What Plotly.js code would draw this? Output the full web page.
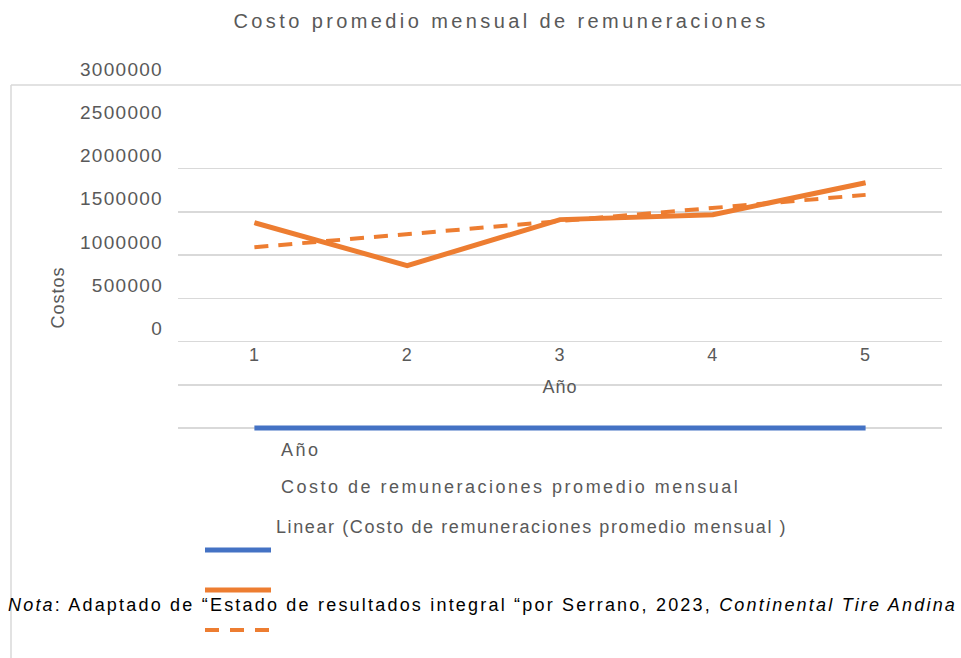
<!DOCTYPE html>
<html>
<head>
<meta charset="utf-8">
<script src="https://cdn.plot.ly/plotly-3.0.1.min.js"></script>
<style>
  html, body { margin: 0; padding: 0; background: #fff; }
  #chart { width: 961px; height: 658px; }
  .gtitle { letter-spacing: 3.4px; }
  .y2tick text { letter-spacing: 1.3px; }
  .xtick text { letter-spacing: 1px; }
  .xtitle { letter-spacing: 1px; }
  .annotation-text { letter-spacing: 2.5px; }
  g.annotation[data-index="2"] .annotation-text { letter-spacing: 1.6px; }
  g.annotation[data-index="3"] .annotation-text { letter-spacing: 1px; }
  g.annotation[data-index="4"] .annotation-text { letter-spacing: 2.2px; }
</style>
</head>
<body>
<div id="chart"></div>
<script>
// ---- data ----
const years = [1, 2, 3, 4, 5];
const yearLabels = ["1", "2", "3", "4", "5"];
const costoMensual = [1374000, 877000, 1409000, 1466000, 1836000];
const trendYears = [1, 5];
const trendCosto = [1090000, 1695000];
const anoSeries = [-1000000, -1000000, -1000000, -1000000, -1000000];
const gridVals = [-1000000, -500000, 0, 500000, 1000000, 1500000, 2000000];
const yTickVals = [0, 500000, 1000000, 1500000, 2000000, 2500000, 3000000];
const yTickText = ["0", "500000", "1000000", "1500000", "2000000", "2500000", "3000000"];
const legendNames = ["Año", "Costo de remuneraciones promedio mensual", "Linear (Costo de remuneraciones promedio mensual )"];
const titleText = "Costo promedio mensual de remuneraciones";
const yTitle = "Costos";
const xTitle = "Año";
const notaText = "<i>Nota</i>: Adaptado de “Estado de resultados integral “por Serrano, 2023, <i>Continental Tire Andina S.A.</i>";

// ---- styles ----
const FONT = "Liberation Sans, Arial, sans-serif";
const GREY = "#595959";
const ORANGE = "#ED7D31";
const BLUE = "#4472C4";
const GRID = "#d9d9d9";

// plot area in pixels: x 178..942, y 82..440 (value 3000000 at y=82, -1000000 at y=428)
const L = 178, R = 942, T = 82, B = 440;
const unitPerPx = 4000000 / 346;
const yRange = [-1000000 - 12 * unitPerPx, 3000000];
const px = v => (v - L) / (R - L);
const py = v => (B - v) / (B - T);

const traces = [
  { x: years, y: anoSeries, type: "scatter", mode: "lines", name: legendNames[0],
    line: { color: BLUE, width: 5 }, xaxis: "x", yaxis: "y", hoverinfo: "skip" },
  { x: years, y: costoMensual, type: "scatter", mode: "lines", name: legendNames[1],
    line: { color: ORANGE, width: 5 }, xaxis: "x", yaxis: "y" },
  { x: trendYears, y: trendCosto, type: "scatter", mode: "lines", name: legendNames[2],
    line: { color: ORANGE, width: 4, dash: "14px,10px" }, xaxis: "x", yaxis: "y2" }
];

const legendSwatchY = [550, 590, 630];
const legendSwatchColor = [BLUE, ORANGE, ORANGE];
const shapes = [
  { type: "line", xref: "paper", yref: "paper", x0: px(11), x1: px(11), y0: py(85), y1: py(700),
    line: { color: GRID, width: 1.5 } },
  { type: "line", xref: "paper", yref: "paper", x0: px(11), x1: px(1000), y0: py(85), y1: py(85),
    line: { color: GRID, width: 1.5 } }
];
legendSwatchY.forEach((yy, i) => {
  shapes.push({ type: "line", xref: "paper", yref: "paper", x0: px(205), x1: px(271), y0: py(yy), y1: py(yy),
    line: { color: legendSwatchColor[i], width: i === 2 ? 4 : 5, dash: i === 2 ? "14px,11px" : "solid" } });
});

const legendTextPos = [[279, 450], [279, 487], [274, 527]];
const annotations = legendNames.map((n, i) => ({
  text: n, xref: "paper", yref: "paper", x: px(legendTextPos[i][0]), y: py(legendTextPos[i][1]),
  xanchor: "left", yanchor: "middle", align: "left", showarrow: false,
  font: { family: FONT, size: 18, color: GREY }
}));
annotations.push({
  text: yTitle, xref: "paper", yref: "paper", x: px(58), y: py(298), textangle: -90,
  xanchor: "center", yanchor: "middle", showarrow: false,
  font: { family: FONT, size: 18, color: GREY }
});
annotations.push({
  text: notaText, xref: "paper", yref: "paper", x: px(6), y: py(605),
  xanchor: "left", yanchor: "middle", align: "left", showarrow: false,
  font: { family: FONT, size: 18, color: "#000000" }
});

const layout = {
  width: 961, height: 658,
  margin: { l: L, r: 961 - R, t: T, b: 658 - B, pad: 0 },
  paper_bgcolor: "#ffffff", plot_bgcolor: "#ffffff",
  showlegend: false,
  title: { text: titleText, xref: "container", yref: "container", x: 501 / 961, y: 1 - 21 / 658,
    xanchor: "center", yanchor: "middle", font: { family: FONT, size: 20, color: GREY } },
  xaxis: {
    range: [0.5, 5.5], tickvals: years, ticktext: yearLabels, showgrid: false, zeroline: false,
    showline: false, ticks: "", anchor: "free", position: py(342),
    tickfont: { family: FONT, size: 18, color: GREY },
    title: { text: xTitle, font: { family: FONT, size: 18, color: GREY }, standoff: 16 },
    automargin: false, fixedrange: true
  },
  yaxis: {
    range: yRange, tickvals: gridVals, showticklabels: false, showgrid: true, gridcolor: GRID,
    gridwidth: 1.5, zeroline: false, showline: false, ticks: "", automargin: false, fixedrange: true
  },
  yaxis2: {
    range: yRange, overlaying: "y", side: "left", anchor: "x", tickvals: yTickVals, ticktext: yTickText,
    showgrid: false, zeroline: false, showline: false, ticks: "", ticklabelshift: -13,
    ticklabelstandoff: 14, tickfont: { family: FONT, size: 19, color: GREY },
    automargin: false, fixedrange: true
  },
  shapes: shapes,
  annotations: annotations
};

Plotly.newPlot("chart", traces, layout, { staticPlot: true, displayModeBar: false });
</script>
</body>
</html>
